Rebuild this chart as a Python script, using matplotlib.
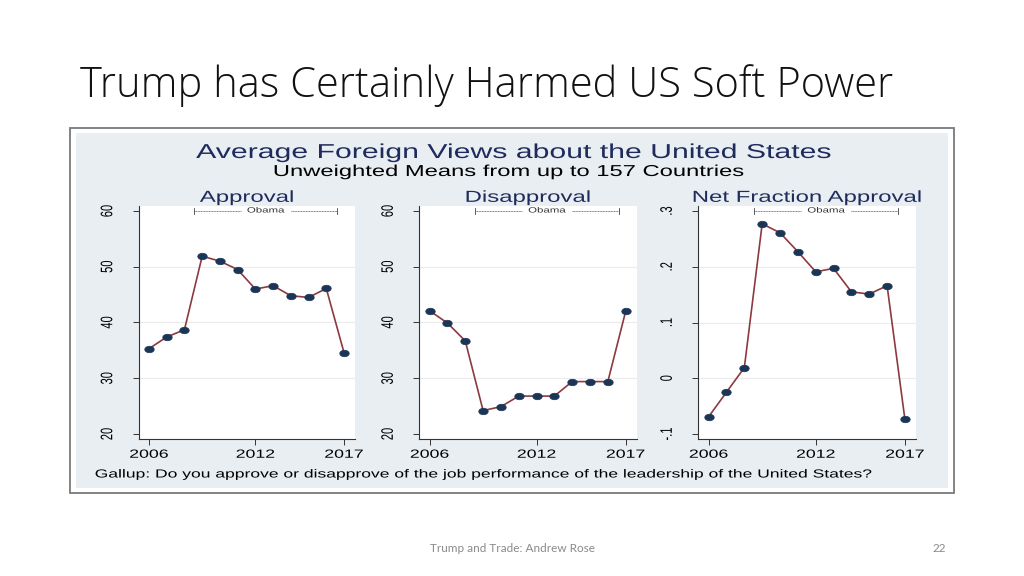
import numpy as np
import matplotlib
matplotlib.use("Agg")
import matplotlib.pyplot as plt
from matplotlib.patches import Rectangle
from matplotlib.patheffects import AbstractPathEffect
from matplotlib.transforms import Affine2D

# --- data ---
years = [2006, 2007, 2008, 2009, 2010, 2011, 2012, 2013, 2014, 2015, 2016, 2017]
approval = [35.3, 37.4, 38.7, 51.9, 51.0, 49.5, 46.0, 46.6, 44.8, 44.5, 46.1, 34.6]
disapproval = [42.1, 39.9, 36.7, 24.2, 24.9, 26.8, 26.8, 26.8, 29.4, 29.4, 29.4, 42.0]
net_approval = [-0.069, -0.025, 0.019, 0.277, 0.261, 0.227, 0.191, 0.197, 0.155, 0.151, 0.166, -0.074]

panel_titles = ["Approval", "Disapproval", "Net Fraction Approval"]
x_ticks = [2006, 2012, 2017]
y_ticks_pct = [20, 30, 40, 50, 60]
y_ticks_net = [-0.1, 0, 0.1, 0.2, 0.3]
y_labels_net = ["-.1", "0", ".1", ".2", ".3"]
obama_span = (2008.55, 2016.62)

W, H = 1024, 576
LINE_C = "#8b3a40"
MARK_C = "#1b3556"
NAVY = "#1f2b5c"
BG = "#e8eef2"
SANS = ["Liberation Sans", "DejaVu Sans"]
SLIDE = ["Open Sans", "DejaVu Sans"]

# oval marker: the pasted graph is stretched sideways
_t = np.linspace(0, 2 * np.pi, 40)
OVAL = np.column_stack([1.45 * np.cos(_t), np.sin(_t)])


class Stretch(AbstractPathEffect):
    """Widen the glyphs horizontally (the pasted Stata graph is stretched)."""

    def __init__(self, sx=1.5, anchor="center"):
        super().__init__()
        self.sx = sx
        self.anchor = anchor

    def draw_path(self, renderer, gc, tpath, affine, rgbFace=None):
        ext = affine.transform_path(tpath).get_extents()
        cx = ext.x0 if self.anchor == "left" else (ext.x0 + ext.x1) / 2
        aff = affine + Affine2D().translate(-cx, 0).scale(self.sx, 1).translate(cx, 0)
        renderer.draw_path(gc, tpath, aff, rgbFace)


def px(x0, y0, x1, y1):
    # pixel box (top-left origin) -> figure fraction rect
    return [x0 / W, 1 - y1 / H, (x1 - x0) / W, (y1 - y0) / H]


fig = plt.figure(figsize=(W / 100, H / 100), dpi=100)
fig.patch.set_facecolor("white")

# frame of the pasted graph
fig.add_artist(Rectangle((70 / W, 1 - 493 / H), 884 / W, 365 / H, transform=fig.transFigure,
                         facecolor="white", edgecolor="#7a7a7a", lw=1.3, zorder=-10))
fig.add_artist(Rectangle((76 / W, 1 - 488 / H), 872 / W, 355 / H, transform=fig.transFigure,
                         facecolor=BG, edgecolor="none", zorder=-9))

# slide title and footer
fig.text(80 / W, 1 - 86 / H, "Trump has Certainly Harmed US Soft Power", fontsize=30,
         family=SLIDE, fontweight="light", va="center", ha="left", color="#111111")
fig.text(512 / W, 1 - 549 / H, "Trump and Trade: Andrew Rose", fontsize=8.5,
         family=["Lato", "DejaVu Sans"], color="#8a8a8a", ha="center", va="center")
fig.text(946 / W, 1 - 549 / H, "22", fontsize=8.5, family=["Lato", "DejaVu Sans"],
         color="#8a8a8a", ha="right", va="center")

# graph titles
st = [Stretch(1.5)]
fig.text(514 / W, 1 - 152.5 / H, "Average Foreign Views about the United States", fontsize=14.5,
         family=SANS, color=NAVY, ha="center", va="center", path_effects=st)
fig.text(509 / W, 1 - 171.5 / H, "Unweighted Means from up to 157 Countries", fontsize=11.4,
         family=SANS, color="black", ha="center", va="center", path_effects=st)
fig.text(95 / W, 1 - 474.5 / H,
         "Gallup: Do you approve or disapprove of the job performance of the leadership of the United States?",
         fontsize=8.4, family=SANS, color="black", ha="left", va="center",
         path_effects=[Stretch(1.5, "left")])

panels = [
    (approval, (138.7, 355), (19.1, 60.9), y_ticks_pct, [str(t) for t in y_ticks_pct], 60),
    (disapproval, (419.3, 636.7), (19.1, 60.9), y_ticks_pct, [str(t) for t in y_ticks_pct], 60),
    (net_approval, (698.3, 916), (-0.109, 0.309), y_ticks_net, y_labels_net, 0.3),
]

for title, (vals, (xl, xr), ylim, yt, ytl, ytop) in zip(panel_titles, panels):
    ax = fig.add_axes(px(xl, 206, xr, 439))
    ax.set_facecolor("white")
    ax.set_xlim(2005.42, 2017.62)
    ax.set_ylim(*ylim)
    for t in yt[1:-1]:
        ax.axhline(t, color="#ececec", lw=0.8, zorder=0)
    ax.plot(years, vals, color=LINE_C, lw=1.2, zorder=2)
    ax.plot(years, vals, ls="none", marker=OVAL, ms=6.8,
            mfc=MARK_C, mec=MARK_C, mew=0.5, zorder=3)
    ax.set_xticks(x_ticks)
    ax.set_xticklabels([str(t) for t in x_ticks], family=SANS, fontsize=8.5)
    ax.set_yticks(yt)
    ax.set_yticklabels(ytl, family=SANS, fontsize=8, rotation=90, va="center")
    for lbl in ax.get_xticklabels() + ax.get_yticklabels():
        lbl.set_path_effects([Stretch(1.5)])
    ax.tick_params(axis="both", direction="out", length=4, width=0.7, color="#333333", pad=3)
    ax.tick_params(axis="y", pad=15)
    for s in ["top", "right"]:
        ax.spines[s].set_visible(False)
    for s in ["left", "bottom"]:
        ax.spines[s].set_color("#333333")
        ax.spines[s].set_linewidth(0.8)
    ax.text(0.5, 1.005, title, transform=ax.transAxes, ha="center", va="bottom",
            fontsize=11.5, family=SANS, color=NAVY, path_effects=[Stretch(1.5)])
    # Obama bracket
    a, b = obama_span
    mid = (a + b) / 2
    ax.plot([a, mid - 1.4], [ytop, ytop], color="#444444", lw=0.5, ls=(0, (1.5, 0.8)), clip_on=False)
    ax.plot([mid + 1.4, b], [ytop, ytop], color="#444444", lw=0.5, ls=(0, (1.5, 0.8)), clip_on=False)
    tick_h = (ylim[1] - ylim[0]) * 0.012
    for xx in (a, b):
        ax.plot([xx, xx], [ytop - tick_h, ytop + tick_h], color="#444444", lw=0.6, clip_on=False)
    ax.text(mid, ytop, "Obama", ha="center", va="center", fontsize=5.5, family=SANS,
            color="#333333", path_effects=[Stretch(1.5)])

fig.savefig("out.png", dpi=100)
